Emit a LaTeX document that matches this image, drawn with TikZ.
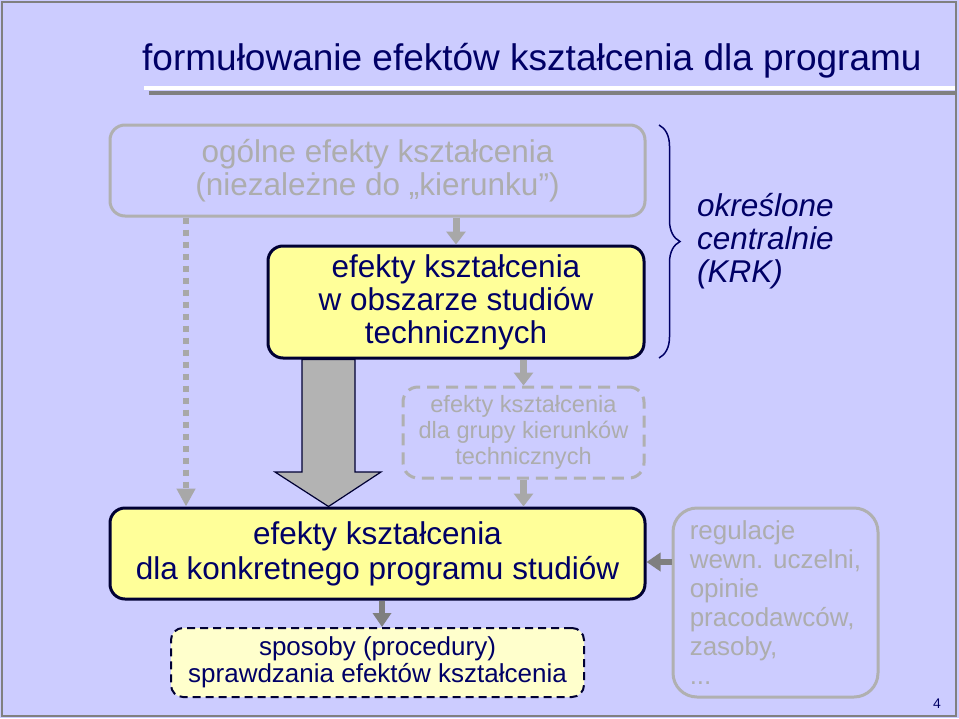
\documentclass[tikz,border=0pt]{standalone}
\usepackage{fontspec}
\setmainfont{Liberation Sans}
\usetikzlibrary{arrows.meta,decorations.pathreplacing}
\definecolor{slidebg}{HTML}{CCCCFF}
\definecolor{navy}{HTML}{000066}
\definecolor{boxline}{HTML}{000033}
\definecolor{yel}{HTML}{FFFF99}
\definecolor{lyel}{HTML}{FFFFCC}
\definecolor{fadetext}{HTML}{ADADAD}
\definecolor{fadeline}{HTML}{B0B0B0}
\definecolor{arrowgray}{HTML}{A8A8A8}
\definecolor{darkarrow}{HTML}{7F7F7F}
\definecolor{bigarrow}{HTML}{B3B3B3}
\definecolor{frame}{HTML}{808080}
\pgfdeclarelayer{bg}
\pgfdeclarelayer{mid}
\pgfsetlayers{bg,mid,main}
\begin{document}
\begin{tikzpicture}[x=1pt,y=-1pt,
  bigfont/.style={font=\fontsize{31.5}{33}\selectfont},
  mainbox/.style={draw=boxline, line width=3pt, fill=yel, rounded corners=15pt, text=navy, align=center, inner sep=0pt},
  fadebox/.style={draw=fadeline, line width=3pt, rounded corners=15pt, text=fadetext, inner sep=0pt},
  thinarrow/.style={draw=arrowgray, line width=7pt, -{Triangle[width=19pt,length=13pt]}},
  darkarr/.style={draw=darkarrow, line width=6pt, -{Triangle[width=18pt,length=14pt]}},
]
\begin{pgfonlayer}{bg}
\fill[slidebg] (0,0) rectangle (959,718);
\draw[frame, line width=1.5pt] (2,2) rectangle (956,716);
\end{pgfonlayer}

% title
\node[anchor=base west, inner sep=0pt, text=navy, font=\fontsize{37}{40}\selectfont] (title) at (142,70) {formułowanie efektów kształcenia dla programu};
\draw[line width=4pt, color=frame] (149,93) -- (955,93);
\draw[line width=4pt, white] (144,88) -- (955,88);

% boxes
\node[fadebox, bigfont, align=center, minimum width=535pt, minimum height=91pt] (A) at (377.5,170.5) {ogólne efekty kształcenia\\(niezależne do „kierunku”)};
\node[mainbox, bigfont, minimum width=376pt, minimum height=112pt] (B) at (456,302) {efekty kształcenia\\w obszarze studiów\\technicznych};
\node[fadebox, dash pattern=on 12pt off 7pt, align=center, font=\fontsize{23.6}{26}\selectfont, minimum width=241pt, minimum height=91pt] (C) at (523.5,432.5) {efekty kształcenia\\dla grupy kierunków\\technicznych};
\node[mainbox, font=\fontsize{31.5}{35}\selectfont, minimum width=535pt, minimum height=91pt] (D) at (377.5,553.5) {efekty kształcenia\\dla konkretnego programu studiów};
\node[draw=boxline, line width=2pt, dash pattern=on 8pt off 5pt, fill=lyel, rounded corners=12pt, text=navy, align=center, inner sep=0pt, font=\fontsize{26}{27}\selectfont, minimum width=413pt, minimum height=69pt] (E) at (377.5,662.5) {sposoby (procedury)\\sprawdzania efektów kształcenia};
\node[fadebox, rounded corners=24pt, align=left, font=\fontsize{26}{29}\selectfont, minimum width=205pt, minimum height=189pt] (F) at (775.5,602.5) {regulacje\\wewn. uczelni,\\opinie\\pracodawców,\\zasoby,\\...};

% brace and label
\draw[navy, line width=1.5pt, decorate, decoration={brace, amplitude=21pt}] (659,125) -- (659,358);
\node[anchor=west, inner sep=0pt, text=navy, align=left, font=\itshape\fontsize{31.5}{33}\selectfont] (krk) at (697,241.5) {określone\\centralnie\\(KRK)};

% page number
\node[anchor=base, inner sep=0pt, text=navy, font=\fontsize{14}{16}\selectfont] (pnum) at (937,708) {4};

% connectors
\draw[thinarrow] (B.north |- A.south) -- (B.north);
\draw[thinarrow] (C.north |- B.south) -- (C.north);
\draw[thinarrow] (C.south) -- (C.south |- D.north);
\draw[arrowgray, line width=6.5pt, dash pattern=on 6pt off 6pt, -{Triangle[width=18pt,length=18pt]}] (186,0 |- A.south) -- (186,0 |- D.north);
\draw[darkarr] (382,0 |- D.south) -- (382,0 |- E.north);
\draw[darkarr] (F.west |- 0,562) -- (D.east |- 0,562);

\begin{pgfonlayer}{mid}
\draw[fill=bigarrow, draw=boxline, line width=1.2pt] (302,0 |- B.south) -- (302,472) -- (275,472) -- (328.5,0 |- D.north) -- (381,472) -- (355,472) -- (355,0 |- B.south) -- cycle;
\end{pgfonlayer}
\end{tikzpicture}
\end{document}
